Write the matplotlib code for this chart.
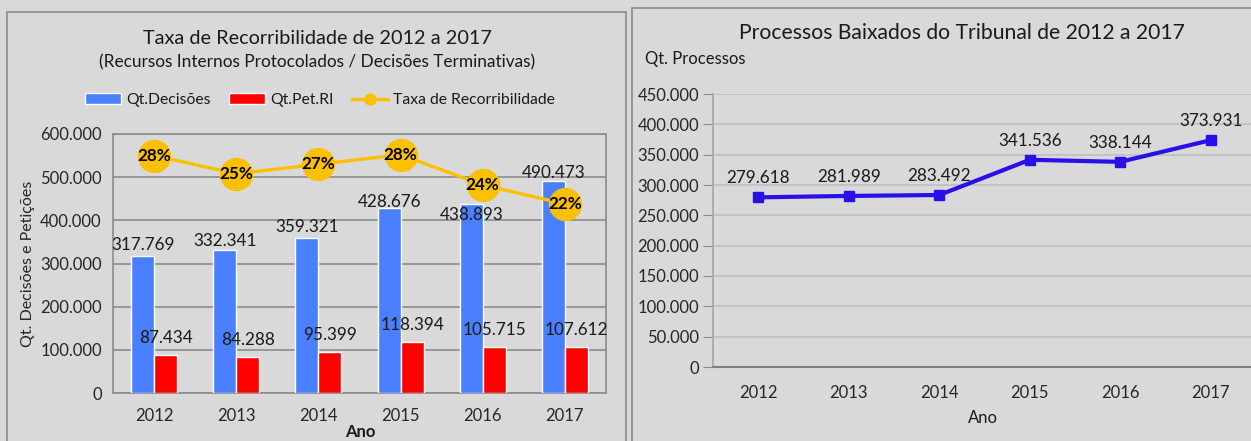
import matplotlib
matplotlib.use("Agg")
import matplotlib.pyplot as plt
from matplotlib.patches import Rectangle, Patch
from matplotlib.lines import Line2D
import numpy as np

plt.rcParams['font.family'] = ['Lato', 'DejaVu Sans']

anos = ['2012', '2013', '2014', '2015', '2016', '2017']
qt_decisoes = [317769, 332341, 359321, 428676, 438893, 490473]
qt_pet_ri = [87434, 84288, 95399, 118394, 105715, 107612]
taxa = [0.275, 0.254, 0.265, 0.276, 0.241, 0.219]
taxa_labels = ['28%', '25%', '27%', '28%', '24%', '22%']
baixados = [279618, 281989, 283492, 341536, 338144, 373931]

def fmt(v):
    return f"{v:,.0f}".replace(",", ".")

W, H = 1251, 441
fig = plt.figure(figsize=(W/100, H/100), dpi=100, facecolor='#d9d9d9')
PT = 0.72  # points per pixel at 100 dpi

def px(x0, y0, x1, y1):
    return [x0/W, 1-y1/H, (x1-x0)/W, (y1-y0)/H]

# panel borders
fig.patches.append(Rectangle((7/W, -0.1), (626-7)/W, 1.1-12/H, transform=fig.transFigure,
                             facecolor='#d9d9d9', edgecolor='#8c8c8c', lw=1.2, zorder=-10))
fig.patches.append(Rectangle((632/W, -0.1), (1260-632)/W, 1.1-8/H, transform=fig.transFigure,
                             facecolor='#d9d9d9', edgecolor='#8c8c8c', lw=1.2, zorder=-10))

# ---------------- Left chart ----------------
ax = fig.add_axes(px(113, 134, 606, 393))
ax.set_facecolor('#d9d9d9')
x = np.arange(len(anos))
bw = 0.28
ax.bar(x - bw/2, qt_decisoes, bw, color='#4a7fff', edgecolor='white', lw=1, zorder=3)
ax.bar(x + bw/2, qt_pet_ri, bw, color='#ff0000', edgecolor='white', lw=1, zorder=3)
ax.set_xlim(-0.5, 5.5)
ax.set_ylim(0, 600000)
ax.set_yticks(np.arange(0, 600001, 100000))
ax.set_yticklabels([fmt(v) for v in np.arange(0, 600001, 100000)])
ax.set_xticks(x)
ax.set_xticklabels(anos)
ax.tick_params(axis='both', length=0, labelsize=12, colors='#262626')
ax.tick_params(axis='x', pad=11)
ax.tick_params(axis='y', pad=8)
ax.grid(axis='y', color='#8c8c8c', lw=1.2, zorder=0)
for s in ax.spines.values():
    s.set_color('#8c8c8c'); s.set_linewidth(1.2)
ax.set_ylabel('Qt. Decisões e Petições', fontsize=11.5, color='#262626', labelpad=4)

blue_off = [11, 9, 11, 6, -11, 8]   # label centre offset from bar top, pixels
for i, v in enumerate(qt_decisoes):
    ax.annotate(fmt(v), (x[i] - bw/2, v), xytext=(0, blue_off[i]*PT), textcoords='offset points',
                ha='center', va='center', fontsize=12.3, color='#1a1a1a', zorder=6)
for i, v in enumerate(qt_pet_ri):
    ax.annotate(fmt(v), (x[i] + bw/2, v), xytext=(0, 17*PT), textcoords='offset points',
                ha='center', va='center', fontsize=12.3, color='#1a1a1a', zorder=6)

ax2 = ax.twinx()
ax2.set_ylim(0, 0.30)
ax2.axis('off')
ax2.plot(x, taxa, color='#ffc000', lw=2.4, marker='o', ms=23, mfc='#ffc000', mec='#ffc000', zorder=5)
for i, v in enumerate(taxa):
    ax2.text(x[i], v, taxa_labels[i], ha='center', va='center', fontsize=12.3, fontweight='bold', color='black', zorder=7)

fig.text(317/W, 1-39/H, 'Taxa de Recorribilidade de 2012 a 2017', ha='center', va='center', fontsize=14.3, color='#1a1a1a')
fig.text(317/W, 1-62/H, '(Recursos Internos Protocolados / Decisões Terminativas)', ha='center', va='center', fontsize=12.4, color='#1a1a1a')
fig.text(360/W, 1-432/H, 'Ano', ha='center', va='center', fontsize=12, fontweight='bold', color='#1a1a1a')

handles = [Patch(facecolor='#4a7fff', edgecolor='white', label='Qt.Decisões'),
           Patch(facecolor='#ff0000', edgecolor='white', label='Qt.Pet.RI'),
           Line2D([0], [0], color='#ffc000', lw=2.4, marker='o', ms=8, label='Taxa de Recorribilidade')]
fig.legend(handles=handles, loc='center', bbox_to_anchor=(320/W, 1-100/H), ncol=3, frameon=False,
           fontsize=11.3, handlelength=2.3, handleheight=0.7, columnspacing=1.2, handletextpad=0.3,
           labelcolor='#1a1a1a')

# ---------------- Right chart ----------------
axr = fig.add_axes(px(713, 94, 713 + 6*90.5, 367))
axr.set_facecolor('#d9d9d9')
axr.plot(x, baixados, color='#2a10e8', lw=3, marker='s', ms=7, zorder=4)
axr.set_xlim(-0.5, 5.5)
axr.set_ylim(0, 450000)
yt = np.arange(0, 450001, 50000)
axr.set_yticks(yt)
axr.set_yticklabels([fmt(v) for v in yt])
axr.set_xticks(x)
axr.set_xticklabels(anos)
axr.tick_params(axis='y', length=7, labelsize=12, pad=3, colors='#8c8c8c', labelcolor='#262626')
axr.tick_params(axis='x', length=0, labelsize=12, labelcolor='#262626', pad=13)
axr.grid(axis='y', color='#bfbfbf', lw=1.2, zorder=0)
for k in ['top', 'right']:
    axr.spines[k].set_visible(False)
axr.spines['left'].set_color('#a6a6a6'); axr.spines['left'].set_linewidth(1.2)
axr.spines['bottom'].set_color('#808080'); axr.spines['bottom'].set_linewidth(1.5)
for i, v in enumerate(baixados):
    axr.annotate(fmt(v), (x[i], v), xytext=(0, 19*PT), textcoords='offset points',
                 ha='center', va='center', fontsize=12.3, color='#1a1a1a')

fig.text(962/W, 1-33/H, 'Processos Baixados do Tribunal de 2012 a 2017', ha='center', va='center', fontsize=15.2, color='#1a1a1a')
fig.text(645/W, 1-59/H, 'Qt. Processos', ha='left', va='center', fontsize=12, color='#1a1a1a')
fig.text(983/W, 1-418/H, 'Ano', ha='center', va='center', fontsize=12, color='#1a1a1a')

fig.savefig('out.png', dpi=100, facecolor=fig.get_facecolor())
